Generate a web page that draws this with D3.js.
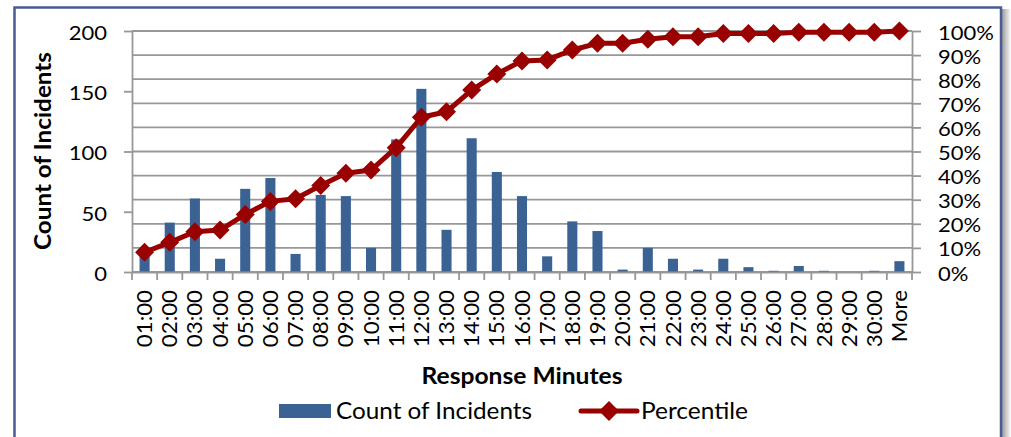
<!DOCTYPE html>
<html>
<head>
<meta charset="utf-8">
<script src="https://cdn.jsdelivr.net/npm/d3@7/dist/d3.min.js"></script>
<style>
  html, body { margin: 0; padding: 0; background: #fff; }
  svg { display: block; }
  text { font-family: Lato, "Open Sans", sans-serif; fill: #000; }
</style>
</head>
<body>
<svg id="chart" width="1011" height="437"></svg>
<script>
const categories = ["01:00","02:00","03:00","04:00","05:00","06:00","07:00","08:00","09:00","10:00",
  "11:00","12:00","13:00","14:00","15:00","16:00","17:00","18:00","19:00","20:00",
  "21:00","22:00","23:00","24:00","25:00","26:00","27:00","28:00","29:00","30:00","More"];
const counts = [14,41,61,11,69,78,15,64,63,20,110,152,35,111,83,63,13,42,34,2,20,11,2,11,4,1,5,1,0,1,9];
const percentiles = [8.2,12.3,16.7,17.4,23.9,29.3,30.4,35.9,41.0,42.3,51.6,64.2,66.5,75.5,82.2,87.6,88.0,92.1,94.9,94.9,96.6,97.6,97.6,99.0,99.0,99.0,99.5,99.5,99.5,99.5,100];
const leftTicks = [0,50,100,150,200];
const rightTicks = [0,0.1,0.2,0.3,0.4,0.5,0.6,0.7,0.8,0.9,1.0];
const yTitle = "Count of Incidents";
const xTitle = "Response Minutes";
const seriesNames = ["Count of Incidents","Percentile"];

(function () {
const svg = d3.select("#chart");
const barColor = "#3a6394", lineColor = "#990000", gridColor = "#979797";

// outer frame with shadow
const defs = svg.append("defs");
const g1 = defs.append("linearGradient").attr("id","shadowR").attr("x1","0").attr("x2","1");
g1.append("stop").attr("offset","0").attr("stop-color","#9a9a9a");
g1.append("stop").attr("offset","1").attr("stop-color","#ffffff");
svg.append("rect").attr("x",1002).attr("y",9).attr("width",9).attr("height",440).attr("fill","url(#shadowR)");
svg.append("rect").attr("x",14.5).attr("y",7.5).attr("width",986.5).attr("height",460)
  .attr("fill","#fff").attr("stroke","#4a5b92").attr("stroke-width",2.5);

const pLeft = 132, pRight = 912, pTop = 31, pBottom = 272;
const x = d3.scaleBand().domain(categories).range([pLeft, pRight]).paddingInner(0.6).paddingOuter(0.3);
const y = d3.scaleLinear().domain([0,200]).range([pBottom, pTop]);
const y2 = d3.scaleLinear().domain([0,1]).range([pBottom, pTop]);

// gridlines (at right-axis ticks)
svg.append("g").selectAll("line").data(rightTicks).join("line")
  .attr("x1", pLeft).attr("x2", pRight)
  .attr("y1", d => y2(d)).attr("y2", d => y2(d))
  .attr("stroke", gridColor).attr("stroke-width", 1.8);

// bars
svg.append("g").selectAll("rect").data(counts).join("rect")
  .attr("x", (d,i) => x(categories[i]))
  .attr("width", x.bandwidth())
  .attr("y", d => y(d))
  .attr("height", d => pBottom - y(d))
  .attr("fill", barColor);

// left axis
const la = svg.append("g").attr("transform", `translate(${pLeft},0)`)
  .call(d3.axisLeft(y).tickValues(leftTicks).tickSize(8).tickPadding(0).tickSizeOuter(0));
la.select(".domain").attr("stroke", gridColor).attr("stroke-width", 1.8);
la.selectAll(".tick line").attr("stroke", gridColor).attr("stroke-width", 1.8);
la.selectAll(".tick text").attr("x", 0).attr("dy", "0.42em")
  .attr("transform", "translate(-25,0) scale(1.1,1)")
  .style("font-size", "20px").style("font-family", "Lato, sans-serif");

// right axis
const ra = svg.append("g").attr("transform", `translate(${pRight},0)`)
  .call(d3.axisRight(y2).tickValues(rightTicks).tickFormat(d3.format(".0%")).tickSize(9).tickPadding(0).tickSizeOuter(0));
ra.select(".domain").attr("stroke", gridColor).attr("stroke-width", 1.8);
ra.selectAll(".tick line").attr("stroke", gridColor).attr("stroke-width", 1.8);
ra.selectAll(".tick text").attr("x", 0).attr("dy", "0.4em")
  .attr("transform", "translate(26,0) scale(1.1,1)")
  .style("font-size", "20px").style("font-family", "Lato, sans-serif");

// bottom axis: labels at category centers, ticks at band boundaries
const xa = svg.append("g").attr("transform", `translate(0,${pBottom})`)
  .call(d3.axisBottom(x).tickSize(0).tickPadding(0).tickSizeOuter(0));
xa.select(".domain").attr("stroke", gridColor).attr("stroke-width", 1.8);
xa.selectAll(".tick text")
  .attr("transform", "translate(0,18) rotate(-90) scale(1.06,1)")
  .attr("x", 0).attr("y", 0).attr("dy", "0.36em")
  .attr("text-anchor", "end")
  .style("font-size", "21px").style("font-family", "Lato, sans-serif");
const boundaries = d3.range(categories.length + 1).map(i => x.range()[0] + i * x.step());
svg.append("g").selectAll("line").data(boundaries).join("line")
  .attr("x1", d => d).attr("x2", d => d).attr("y1", pBottom).attr("y2", pBottom + 8)
  .attr("stroke", gridColor).attr("stroke-width", 1.8);

// percentile line
const cx = (d,i) => x(categories[i]) + x.bandwidth()/2;
const line = d3.line().x((d,i) => cx(d,i)).y(d => y2(d/100));
svg.append("path").datum(percentiles).attr("d", line)
  .attr("fill","none").attr("stroke", lineColor).attr("stroke-width", 5).attr("stroke-linejoin","round");
const diamond = (s) => `M0,${-s}L${s},0L0,${s}L${-s},0Z`;
svg.append("g").selectAll("path").data(percentiles).join("path")
  .attr("transform", (d,i) => `translate(${cx(d,i)},${y2(d/100)})`)
  .attr("d", diamond(9.5)).attr("fill", lineColor);

// axis titles
svg.append("text").attr("transform", "translate(51,151) rotate(-90)")
  .attr("text-anchor","middle").attr("textLength", 198).attr("lengthAdjust","spacingAndGlyphs")
  .style("font-size","23px").style("font-weight","bold").text(yTitle);
svg.append("text").attr("x", 522).attr("y", 384)
  .attr("text-anchor","middle").attr("textLength", 201).attr("lengthAdjust","spacingAndGlyphs")
  .style("font-size","22px").style("font-weight","bold").text(xTitle);

// legend
const lg = svg.append("g");
lg.append("rect").attr("x",279).attr("y",404).attr("width",52).attr("height",14).attr("fill", barColor);
lg.append("text").attr("x",336).attr("y",419).attr("textLength",196).attr("lengthAdjust","spacingAndGlyphs")
  .style("font-size","24px").text(seriesNames[0]);
lg.append("line").attr("x1",581).attr("x2",637).attr("y1",411).attr("y2",411)
  .attr("stroke", lineColor).attr("stroke-width",5).attr("stroke-linecap","round");
lg.append("path").attr("transform","translate(609,411)").attr("d", diamond(10)).attr("fill", lineColor);
lg.append("text").attr("x",641).attr("y",419).attr("textLength",107).attr("lengthAdjust","spacingAndGlyphs")
  .style("font-size","24px").text(seriesNames[1]);
})();
</script>
</body>
</html>
